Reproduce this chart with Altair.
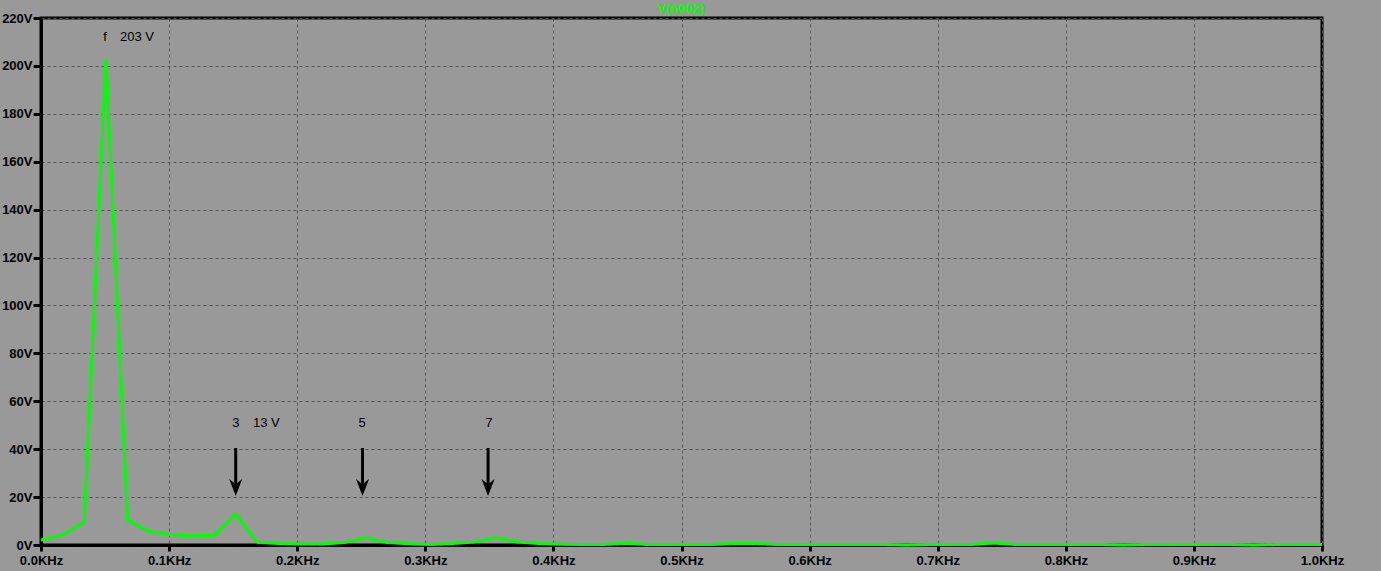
import altair as alt
import pandas as pd

# FFT bins (kHz) and magnitude (V)
freq_khz = [0.0, 0.0169, 0.0338, 0.0507, 0.0676, 0.0845, 0.1014, 0.1183, 0.1352, 0.1521,
            0.169, 0.1859, 0.2028, 0.2197, 0.2366, 0.2535, 0.2704, 0.2873, 0.3042, 0.3211,
            0.338, 0.3549, 0.3718, 0.3887, 0.4056, 0.4225, 0.4394, 0.4563, 0.4732, 0.4901,
            0.507, 0.5239, 0.5408, 0.5577, 0.5746, 0.5915, 0.6084, 0.6253, 0.6422, 0.6591,
            0.676, 0.6929, 0.7098, 0.7267, 0.7436, 0.7605, 0.7774, 0.7943, 0.8112, 0.8281,
            0.845, 0.8619, 0.8788, 0.8957, 0.9126, 0.9295, 0.9464, 0.9633, 0.9802, 0.9971, 1.0]
volts = [2.1, 4.2, 9.5, 203, 10.5, 5.6, 4.3, 3.9, 4.1, 12.9,
         1.1, 0.6, 0.4, 0.4, 1.0, 3.0, 1.0, 0.5, 0.2, 0.6,
         1.2, 3.0, 1.3, 0.6, 0.3, 0.2, 0.2, 0.7, 0.2, 0.2,
         0.2, 0.2, 0.6, 0.6, 0.2, 0.2, 0.2, 0.2, 0.2, 0.2,
         0.0, 0.2, 0.2, 0.2, 0.8, 0.2, 0.2, 0.2, 0.2, 0.2,
         0.0, 0.2, 0.2, 0.2, 0.2, 0.2, 0.0, 0.2, 0.2, 0.2, 0.2]

# harmonic markers
arrow_x = [0.152, 0.251, 0.349]
arrow_top = [40.5, 40.5, 40.5]
arrow_head = [24.0, 24.0, 24.0]

# annotations
order_labels = ["f", "3", "5", "7"]
order_x = [0.050, 0.1522, 0.2506, 0.3497]
order_y = [212.2, 50.8, 50.8, 50.8]
value_labels = ["203 V", "13 V"]
value_x = [0.0617, 0.1655]
value_y = [212.2, 50.8]

x_ticks = [0.0, 0.1, 0.2, 0.3, 0.4, 0.5, 0.6, 0.7, 0.8, 0.9, 1.0]
y_ticks = [0, 20, 40, 60, 80, 100, 120, 140, 160, 180, 200, 220]

spec_df = pd.DataFrame({"f": freq_khz, "v": volts})
arrow_df = pd.DataFrame({"f": arrow_x, "top": arrow_top, "head": arrow_head})
order_df = pd.DataFrame({"f": order_x, "v": order_y, "t": order_labels})
value_df = pd.DataFrame({"f": value_x, "v": value_y, "t": value_labels})

FONT = "Liberation Sans"

xscale = alt.Scale(domain=[0, 1.0], nice=False, zero=False)
yscale = alt.Scale(domain=[0, 220], nice=False)

xaxis = alt.Axis(values=x_ticks, labelExpr="format(datum.value, '.1f') + 'KHz'",
                 title=None, grid=True, gridColor="#555555", gridDash=[3, 3], gridWidth=1,
                 domainColor="black", domainWidth=3, tickColor="black", tickWidth=3,
                 tickSize=6, labelPadding=3, labelFont=FONT, labelFontSize=13,
                 labelFontWeight="bold", labelColor="black", labelFlush=False)
yaxis = alt.Axis(values=y_ticks, labelExpr="datum.value + 'V'",
                 title=None, grid=True, gridColor="#555555", gridDash=[3, 3], gridWidth=1,
                 domainColor="black", domainWidth=3, tickColor="black", tickWidth=3,
                 tickSize=8, labelPadding=1, labelFont=FONT, labelFontSize=13,
                 labelFontWeight="bold", labelColor="black", labelFlush=False)

line = alt.Chart(spec_df).mark_line(color="#00ff00", strokeWidth=3).encode(
    x=alt.X("f:Q", scale=xscale, axis=xaxis),
    y=alt.Y("v:Q", scale=yscale, axis=yaxis),
)

shaft = alt.Chart(arrow_df).mark_rule(color="black", strokeWidth=3).encode(
    x=alt.X("f:Q", scale=xscale),
    y=alt.Y("top:Q", scale=yscale),
    y2="head:Q",
)

head = alt.Chart(arrow_df).mark_point(
    shape="M0,1.3 L-1,-1.3 L0,-0.5 L1,-1.3 Z",
    filled=True, color="black", opacity=1, size=169, strokeWidth=0,
).encode(
    x=alt.X("f:Q", scale=xscale),
    y=alt.Y("head:Q", scale=yscale),
)

order_text = alt.Chart(order_df).mark_text(
    font=FONT, fontSize=13, color="black", align="center", baseline="middle"
).encode(
    x=alt.X("f:Q", scale=xscale),
    y=alt.Y("v:Q", scale=yscale),
    text="t:N",
)

value_text = alt.Chart(value_df).mark_text(
    font=FONT, fontSize=13, color="black", align="left", baseline="middle"
).encode(
    x=alt.X("f:Q", scale=xscale),
    y=alt.Y("v:Q", scale=yscale),
    text="t:N",
)

chart = alt.layer(line, shaft, head, order_text, value_text).properties(
    width=1281,
    height=527,
    background="#999999",
    padding={"left": 41, "top": 18, "right": 59, "bottom": 26},
    autosize=alt.AutoSizeParams(type="none"),
    title=alt.TitleParams("V(n002)", color="#00ff00", font=FONT, fontSize=13,
                          fontWeight="bold", anchor="middle", baseline="middle",
                          offset=1, dy=11),
).configure_view(stroke="black", strokeWidth=3)

chart.save("out.html", embed_options={"renderer": "svg", "actions": False})
